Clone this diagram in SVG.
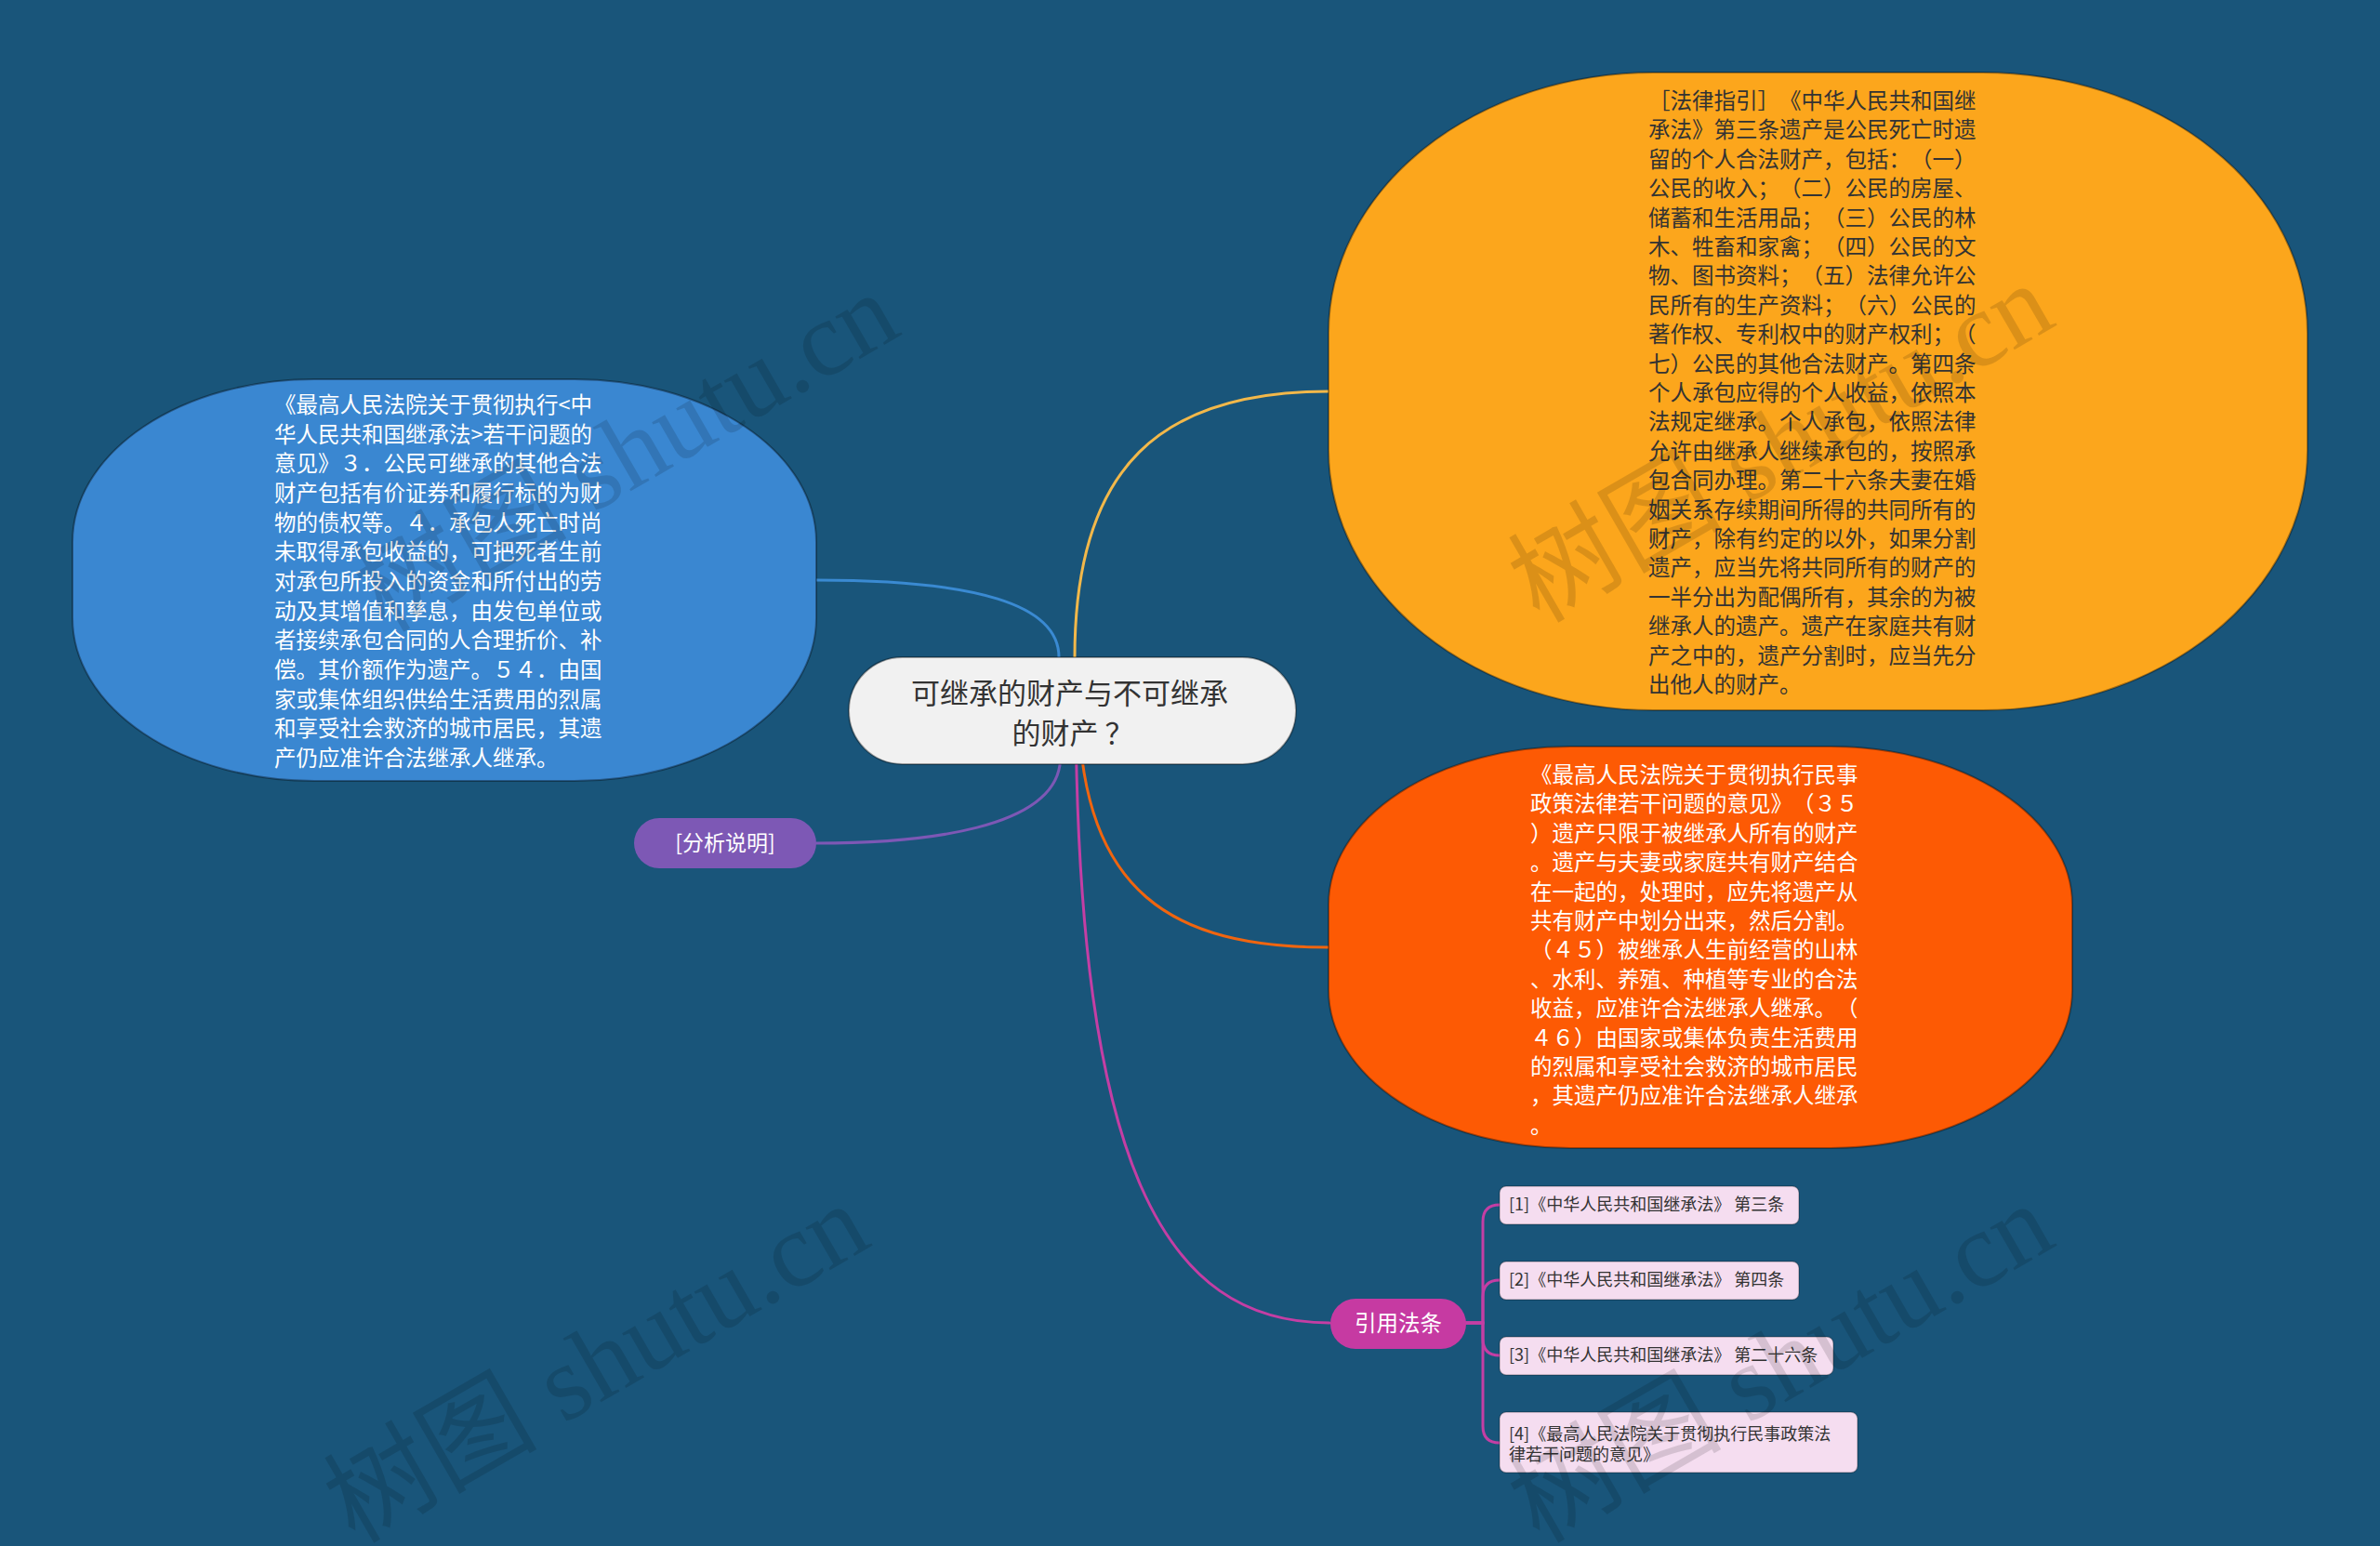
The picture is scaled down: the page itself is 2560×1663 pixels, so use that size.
<svg xmlns="http://www.w3.org/2000/svg" width="2560" height="1663" viewBox="0 0 2560 1663">
<defs>
<style>
.t{font-family:"Noto Sans CJK SC","Noto Sans",sans-serif;text-spacing-trim:space-all;font-feature-settings:"chws" 0,"halt" 0;}
.big{font-size:23.5px;}
.wh{fill:#ffffff;}
.dk{fill:#333333;}
.edge{stroke:rgba(0,0,0,0.35);stroke-width:2;}
.cn{fill:none;stroke-width:3;stroke-linecap:round;}
.cite{fill:#F5DDF0;stroke:rgba(0,0,0,0.25);stroke-width:1.5;}
.ct{font-size:18px;fill:#333333;}
.wm{font-family:"Liberation Serif","Noto Sans CJK SC",serif;font-size:115px;fill:rgba(0,0,0,0.13);}
</style>
</defs>
<rect x="0" y="0" width="2560" height="1663" fill="#19557A"/>

<g id="connectors">
<path class="cn" stroke="#3A8AD2" d="M1139,764 L1139,707 C1139,650 1050,624 878,624"/>
<path class="cn" stroke="#F2B84A" d="M1156,764 L1156,707 C1156,500 1250,421 1429,421"/>
<path class="cn" stroke="#F0650F" d="M1160,764 C1165,960 1260,1019 1429,1019"/>
<path class="cn" stroke="#7D58B5" d="M1140,764 L1140,823 C1130,890 1000,907 878,907"/>
<path class="cn" stroke="#C43EA4" d="M1157,764 C1160,1250 1250,1423 1430,1423"/>
<path class="cn" stroke="#C43EA4" d="M1576,1423 H1595 V1314 Q1595,1296 1613,1296"/>
<path class="cn" stroke="#C43EA4" d="M1576,1423 H1595 V1395 Q1595,1377 1613,1377"/>
<path class="cn" stroke="#C43EA4" d="M1576,1423 H1595 V1440 Q1595,1458 1613,1458"/>
<path class="cn" stroke="#C43EA4" d="M1576,1423 H1595 V1534 Q1595,1552 1613,1552"/>
</g>

<g id="node-blue">
<rect class="edge" x="78" y="408" width="800" height="432" rx="260" ry="175" fill="#3A87D1"/>
<text class="t big wh">
<tspan x="295" y="444">《最高人民法院关于贯彻执行&lt;中</tspan>
<tspan x="295" dy="31.67">华人民共和国继承法&gt;若干问题的</tspan>
<tspan x="295" dy="31.67">意见》３．公民可继承的其他合法</tspan>
<tspan x="295" dy="31.67">财产包括有价证券和履行标的为财</tspan>
<tspan x="295" dy="31.67">物的债权等。４．承包人死亡时尚</tspan>
<tspan x="295" dy="31.67">未取得承包收益的，可把死者生前</tspan>
<tspan x="295" dy="31.67">对承包所投入的资金和所付出的劳</tspan>
<tspan x="295" dy="31.67">动及其增值和孳息，由发包单位或</tspan>
<tspan x="295" dy="31.67">者接续承包合同的人合理折价、补</tspan>
<tspan x="295" dy="31.67">偿。其价额作为遗产。５４．由国</tspan>
<tspan x="295" dy="31.67">家或集体组织供给生活费用的烈属</tspan>
<tspan x="295" dy="31.67">和享受社会救济的城市居民，其遗</tspan>
<tspan x="295" dy="31.67">产仍应准许合法继承人继承。</tspan>
</text>
</g>

<g id="node-orange">
<rect class="edge" x="1429" y="78" width="1053" height="686" rx="350" ry="280" fill="#FCA61C"/>
<text class="t big dk">
<tspan x="1773" y="117">［法律指引］《中华人民共和国继</tspan>
<tspan x="1773" dy="31.4">承法》第三条遗产是公民死亡时遗</tspan>
<tspan x="1773" dy="31.4">留的个人合法财产，包括：（一）</tspan>
<tspan x="1773" dy="31.4">公民的收入；（二）公民的房屋、</tspan>
<tspan x="1773" dy="31.4">储蓄和生活用品；（三）公民的林</tspan>
<tspan x="1773" dy="31.4">木、牲畜和家禽；（四）公民的文</tspan>
<tspan x="1773" dy="31.4">物、图书资料；（五）法律允许公</tspan>
<tspan x="1773" dy="31.4">民所有的生产资料；（六）公民的</tspan>
<tspan x="1773" dy="31.4">著作权、专利权中的财产权利；（</tspan>
<tspan x="1773" dy="31.4">七）公民的其他合法财产。第四条</tspan>
<tspan x="1773" dy="31.4">个人承包应得的个人收益，依照本</tspan>
<tspan x="1773" dy="31.4">法规定继承。个人承包，依照法律</tspan>
<tspan x="1773" dy="31.4">允许由继承人继续承包的，按照承</tspan>
<tspan x="1773" dy="31.4">包合同办理。第二十六条夫妻在婚</tspan>
<tspan x="1773" dy="31.4">姻关系存续期间所得的共同所有的</tspan>
<tspan x="1773" dy="31.4">财产，除有约定的以外，如果分割</tspan>
<tspan x="1773" dy="31.4">遗产，应当先将共同所有的财产的</tspan>
<tspan x="1773" dy="31.4">一半分出为配偶所有，其余的为被</tspan>
<tspan x="1773" dy="31.4">继承人的遗产。遗产在家庭共有财</tspan>
<tspan x="1773" dy="31.4">产之中的，遗产分割时，应当先分</tspan>
<tspan x="1773" dy="31.4">出他人的财产。</tspan>
</text>
</g>

<g id="node-red">
<rect class="edge" x="1429" y="803" width="800" height="432" rx="260" ry="170" fill="#FD5A04"/>
<text class="t big wh">
<tspan x="1646" y="842">《最高人民法院关于贯彻执行民事</tspan>
<tspan x="1646" dy="31.4">政策法律若干问题的意见》（３５</tspan>
<tspan x="1646" dy="31.4">）遗产只限于被继承人所有的财产</tspan>
<tspan x="1646" dy="31.4">。遗产与夫妻或家庭共有财产结合</tspan>
<tspan x="1646" dy="31.4">在一起的，处理时，应先将遗产从</tspan>
<tspan x="1646" dy="31.4">共有财产中划分出来，然后分割。</tspan>
<tspan x="1646" dy="31.4">（４５）被继承人生前经营的山林</tspan>
<tspan x="1646" dy="31.4">、水利、养殖、种植等专业的合法</tspan>
<tspan x="1646" dy="31.4">收益，应准许合法继承人继承。（</tspan>
<tspan x="1646" dy="31.4">４６）由国家或集体负责生活费用</tspan>
<tspan x="1646" dy="31.4">的烈属和享受社会救济的城市居民</tspan>
<tspan x="1646" dy="31.4">，其遗产仍应准许合法继承人继承</tspan>
<tspan x="1646" dy="31.4">。</tspan>
</text>
</g>

<g id="node-root">
<rect class="edge" x="913" y="707" width="481" height="115" rx="57.5" ry="57.5" fill="#F1F1F1"/>
<text class="t dk" font-size="31" text-anchor="middle">
<tspan x="1154" y="757">可继承的财产与不可继承</tspan>
<tspan x="1154" y="800">的财产 ？</tspan>
</text>
</g>

<g id="node-analysis">
<rect x="682" y="880" width="196" height="54" rx="27" ry="27" fill="#7D58B5"/>
<text class="t wh" font-size="23" text-anchor="middle" x="780" y="915">[分析说明]</text>
</g>

<g id="node-cite">
<rect x="1431" y="1397" width="146" height="54" rx="27" ry="27" fill="#C63AA2"/>
<text class="t wh" font-size="23.5" text-anchor="middle" x="1504" y="1432">引用法条</text>
</g>

<g id="cite-1">
<rect class="cite" x="1613" y="1276" width="322" height="41" rx="7"/>
<text class="t ct" x="1623" y="1302">[1]《中华人民共和国继承法》 第三条</text>
</g>
<g id="cite-2">
<rect class="cite" x="1613" y="1357" width="322" height="41" rx="7"/>
<text class="t ct" x="1623" y="1383">[2]《中华人民共和国继承法》 第四条</text>
</g>
<g id="cite-3">
<rect class="cite" x="1613" y="1438" width="359" height="41" rx="7"/>
<text class="t ct" x="1623" y="1464">[3]《中华人民共和国继承法》 第二十六条</text>
</g>
<g id="cite-4">
<rect class="cite" x="1613" y="1519" width="385" height="65" rx="7"/>
<text class="t ct">
<tspan x="1623" y="1549">[4]《最高人民法院关于贯彻执行民事政策法</tspan>
<tspan x="1623" y="1571">律若干问题的意见》</tspan>
</text>
</g>

<g id="watermarks">
<text class="wm" text-anchor="middle" transform="translate(693,520) rotate(-30)">树图 shutu.cn</text>
<text class="wm" text-anchor="middle" transform="translate(1935,510) rotate(-30)">树图 shutu.cn</text>
<text class="wm" text-anchor="middle" transform="translate(661,1500) rotate(-30)">树图 shutu.cn</text>
<text class="wm" text-anchor="middle" transform="translate(1935,1500) rotate(-30)">树图 shutu.cn</text>
</g>
</svg>
